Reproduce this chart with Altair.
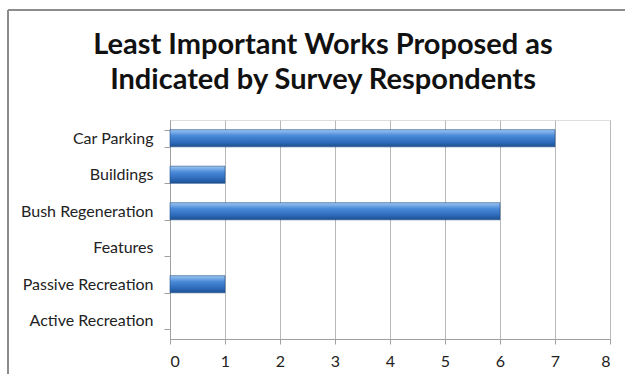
import altair as alt
import pandas as pd

categories = ["Car Parking", "Buildings", "Bush Regeneration", "Features", "Passive Recreation", "Active Recreation"]
values = [7, 1, 6, 0, 1, 0]

df = pd.DataFrame({"category": categories, "value": values})

grad = alt.Gradient(
    gradient="linear",
    stops=[
        alt.GradientStop(color="#9cc6f2", offset=0),
        alt.GradientStop(color="#4a8ad8", offset=0.35),
        alt.GradientStop(color="#2c69b8", offset=0.75),
        alt.GradientStop(color="#1d4f8e", offset=1),
    ],
    x1=0, x2=0, y1=0, y2=1,
)

bars = alt.Chart(df).transform_filter("datum.value > 0").mark_bar(
    color=grad, stroke="#1f4f8a", strokeWidth=0.6
).encode(
    x=alt.X("value:Q", scale=alt.Scale(domain=[0, 8], nice=False),
            axis=alt.Axis(values=list(range(0, 9)), title=None, grid=True,
                          gridColor="#b8b8b8", domainColor="#a0a0a0", tickColor="#a0a0a0",
                          tickSize=5, labelFontSize=16, labelColor="#222222",
                          labelFont="Lato", labelPadding=9)),
    y=alt.Y("category:N", sort=categories,
            scale=alt.Scale(domain=categories, paddingInner=0.53, paddingOuter=0.265),
            axis=alt.Axis(title=None, domainColor="#a0a0a0", tickColor="#a0a0a0",
                          tickSize=6, tickBand="extent", labelFontSize=16,
                          labelColor="#222222", labelFont="Lato", labelPadding=11)),
)

frame_left = alt.Chart(df).mark_rule(color="#8c8c8c", strokeWidth=1.2).encode(
    x=alt.value(-162), y=alt.value(-110), y2=alt.value(260)
)
frame_top = alt.Chart(df).mark_rule(color="#8c8c8c", strokeWidth=1.2).encode(
    x=alt.value(-162), x2=alt.value(460), y=alt.value(-110)
)

chart = alt.layer(frame_left, frame_top, bars).properties(
    width=440,
    height=219,
    autosize=alt.AutoSizeParams(type="none"),
    padding={"left": 170, "top": 120, "right": 15, "bottom": 35},
    title=alt.TitleParams(
        text=["Least Important Works Proposed as", "Indicated by Survey Respondents"],
        font="Lato", fontSize=29, fontWeight="bold", color="#111111",
        anchor="middle", frame="group", dx=-67, dy=113, offset=27, lineHeight=35,
    ),
).configure_view(stroke=None).configure(background="white")

chart.save("out.html", embed_options={"renderer": "svg", "actions": False})
